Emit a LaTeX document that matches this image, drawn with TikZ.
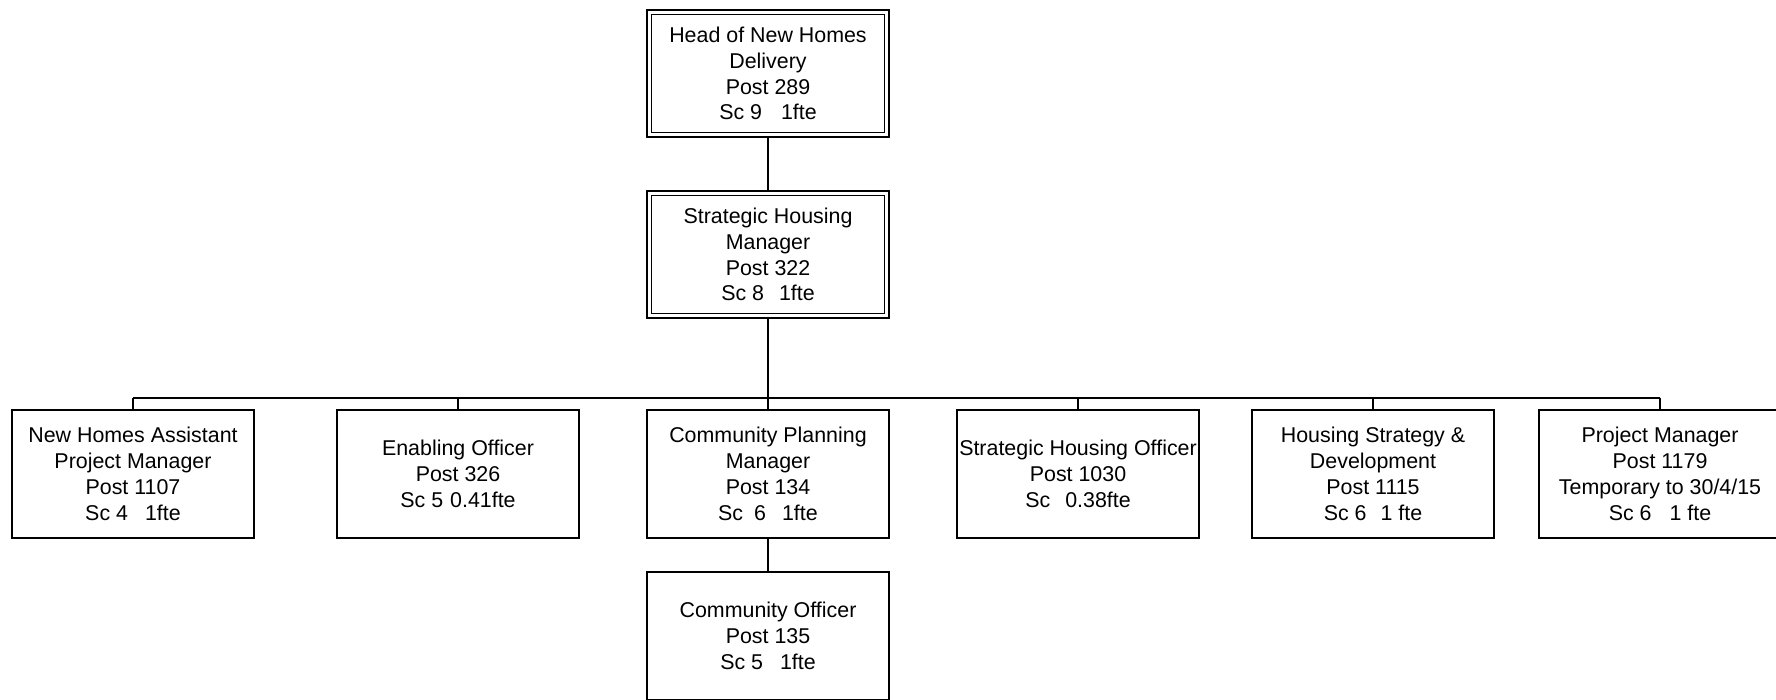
\documentclass[tikz,border=0pt]{standalone}
\usepackage{fontspec}
\setmainfont{Liberation Sans}
\begin{document}
\begin{tikzpicture}[x=1pt,y=-1pt,
  post/.style={draw,line width=1.5pt,rectangle,inner sep=0pt,
    minimum width=242pt,minimum height=128pt,align=center,
    font=\fontsize{21.4}{25.8}\selectfont},
  headpost/.style={post,line width=1.6pt,double,double distance=3pt,
    minimum width=237.8pt,minimum height=122.8pt,outer sep=3.1pt},
  link/.style={line width=1.5pt}]
\useasboundingbox (0,0) rectangle (1776,699);
\clip (0,0) rectangle (1776,699);

% senior posts
\node[headpost] (head) at (768,73.5)
  {Head of New Homes\\Delivery\\Post 289\\Sc 9\hspace{19pt}1fte};
\node[headpost] (shm) at (768,254.5)
  {Strategic Housing\\Manager\\Post 322\\Sc 8\hspace{15pt}1fte};

% posts reporting to the Strategic Housing Manager
\node[post] (nhapm) at (133,474)
  {New Homes Assistant\\Project Manager\\Post 1107\\Sc 4\hspace{17pt}1fte};
\node[post] (eo) at (458,474)
  {Enabling Officer\\Post 326\\Sc 5\hspace{7pt}0.41fte};
\node[post] (cpm) at (768,474)
  {Community Planning\\Manager\\Post 134\\Sc\hspace{11pt}6\hspace{16pt}1fte};
\node[post] (sho) at (1078,474)
  {Strategic Housing Officer\\Post 1030\\Sc\hspace{15pt}0.38fte};
\node[post] (hsd) at (1373,474)
  {Housing Strategy \&\\Development\\Post 1115\\Sc 6\hspace{14pt}1 fte};
\node[post] (pm) at (1660,474)
  {Project Manager\\Post 1179\\Temporary to 30/4/15\\Sc 6\hspace{18pt}1 fte};

% post reporting to the Community Planning Manager
\node[post] (co) at (768,636)
  {Community Officer\\Post 135\\Sc 5\hspace{17pt}1fte};

% reporting lines
\coordinate (bar) at (768,398);
\draw[link] (head.south) -- (shm.north);
\draw[link] (shm.south) -- (bar);
\draw[link] (nhapm.north |- bar) -- (pm.north |- bar);
\foreach \n in {nhapm,eo,cpm,sho,hsd,pm}
  \draw[link] (\n.north) -- (\n.north |- bar);
\draw[link] (cpm.south) -- (co.north);
\end{tikzpicture}
\end{document}
